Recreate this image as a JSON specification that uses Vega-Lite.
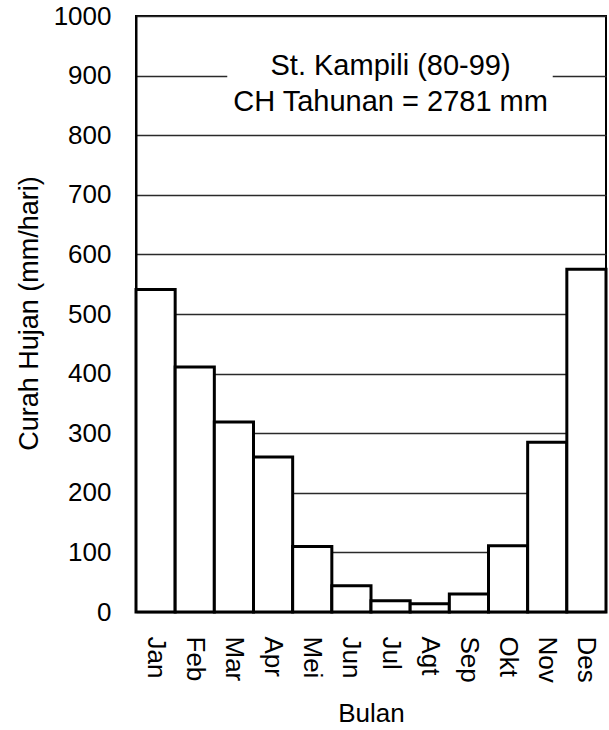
{
  "$schema": "https://vega.github.io/schema/vega-lite/v6.json",
  "width": 470,
  "height": 596,
  "autosize": "none",
  "padding": {"left": 136, "top": 16, "right": 3, "bottom": 118},
  "background": "white",
  "config": {
    "view": {"stroke": "black", "strokeWidth": 2},
    "font": "Liberation Sans",
    "axis": {
      "labelFont": "Liberation Sans",
      "labelFontSize": 26,
      "labelColor": "black",
      "titleFont": "Liberation Sans",
      "titleFontSize": 26,
      "titleFontWeight": "normal",
      "titleColor": "black"
    }
  },
  "datasets": {
    "curah": [
      {"Bulan": "Jan", "CH": 541},
      {"Bulan": "Feb", "CH": 411},
      {"Bulan": "Mar", "CH": 319},
      {"Bulan": "Apr", "CH": 260},
      {"Bulan": "Mei", "CH": 110},
      {"Bulan": "Jun", "CH": 44},
      {"Bulan": "Jul", "CH": 19},
      {"Bulan": "Agt", "CH": 14},
      {"Bulan": "Sep", "CH": 30},
      {"Bulan": "Okt", "CH": 111},
      {"Bulan": "Nov", "CH": 285},
      {"Bulan": "Des", "CH": 575}
    ],
    "note": [
      {"label": "St. Kampili (80-99)"}
    ]
  },
  "layer": [
    {
      "data": {"name": "curah"},
      "mark": {"type": "bar", "fill": "white", "stroke": "black", "strokeWidth": 3},
      "encoding": {
        "x": {
          "field": "Bulan",
          "type": "nominal",
          "sort": null,
          "scale": {"paddingInner": 0, "paddingOuter": 0},
          "axis": {
            "labelAngle": 90,
            "labelAlign": "left",
            "labelBaseline": "middle",
            "labelPadding": 24,
            "ticks": false,
            "domain": false,
            "title": "Bulan",
            "titleBaseline": "middle",
            "titleY": 101
          }
        },
        "y": {
          "field": "CH",
          "type": "quantitative",
          "scale": {"domain": [0, 1000], "nice": false},
          "axis": {
            "values": [0, 100, 200, 300, 400, 500, 600, 700, 800, 900, 1000],
            "format": "d",
            "grid": true,
            "gridColor": "#2a2a2a",
            "gridWidth": 1.6,
            "domain": true,
            "domainColor": "black",
            "domainWidth": 2,
            "ticks": false,
            "labelPadding": 25,
            "title": "Curah Hujan (mm/hari)",
            "titleFontSize": 27,
            "titleX": -107,
            "titleY": 297,
            "titleAngle": -90,
            "titleAlign": "center",
            "titleBaseline": "middle"
          }
        }
      }
    },
    {
      "data": {"name": "note"},
      "mark": {"type": "rect", "fill": "white", "stroke": null},
      "encoding": {
        "x": {"datum": "Mar", "bandPosition": 0.33},
        "x2": {"datum": "Nov", "bandPosition": 0.64},
        "y": {"datum": 835},
        "y2": {"datum": 955}
      }
    },
    {
      "data": {"name": "note"},
      "mark": {
        "type": "text",
        "text": ["St. Kampili (80-99)", "CH Tahunan = 2781 mm"],
        "lineHeight": 36,
        "fontSize": 29,
        "font": "Liberation Sans",
        "fill": "black",
        "align": "center",
        "baseline": "middle"
      },
      "encoding": {
        "x": {"datum": "Jul"},
        "y": {"datum": 916}
      }
    }
  ]
}
